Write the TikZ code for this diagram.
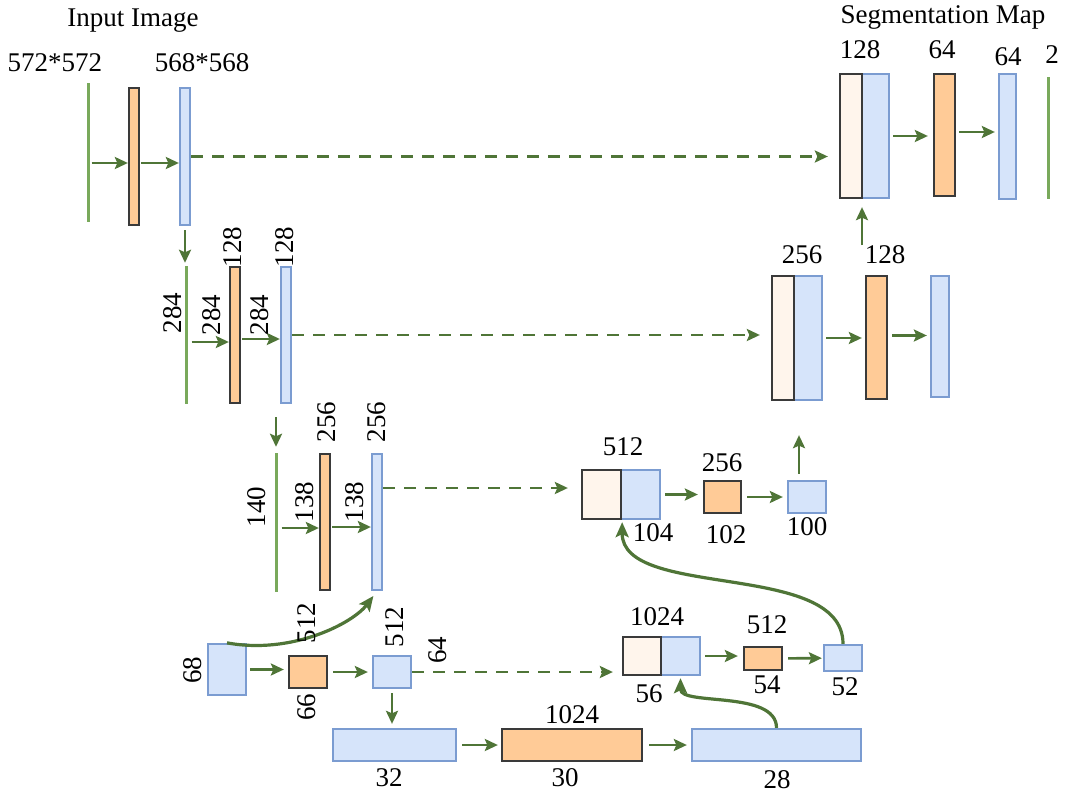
\documentclass[tikz,border=0pt]{standalone}
\usepackage{fontspec}
\setmainfont{Liberation Serif}
\usetikzlibrary{arrows.meta}
\definecolor{arrowgreen}{HTML}{4F7537}
\definecolor{planegreen}{HTML}{79A95B}
\definecolor{convfill}{HTML}{FFCB97}
\definecolor{featfill}{HTML}{D6E4FA}
\definecolor{featline}{HTML}{7B9CD1}
\definecolor{copyfill}{HTML}{FFF5EC}
\definecolor{boxline}{HTML}{3A3A3A}

\begin{document}
\begin{tikzpicture}[
    x=1pt, y=-1pt,
    font=\fontsize{27}{32}\selectfont,
    conv/.style={rectangle, draw=boxline, fill=convfill, line width=2.3pt, inner sep=0pt},
    feat/.style={rectangle, draw=featline, fill=featfill, line width=2.3pt, inner sep=0pt},
    copied/.style={rectangle, draw=boxline, fill=copyfill, line width=2.3pt, inner sep=0pt},
    plane/.style={rectangle, fill=planegreen, minimum width=3pt, inner sep=0pt},
    txt/.style={inner sep=0pt},
    vtxt/.style={inner sep=0pt, rotate=90},
    arrow/.style={-{Stealth[length=13pt, width=12pt, inset=2.5pt]}, color=arrowgreen, line width=2.6pt},
    skip/.style={arrow, dash pattern=on 12pt off 9pt},
    curvedarrow/.style={-{Stealth[length=15pt, width=13pt, inset=3pt]}, color=arrowgreen, line width=3.2pt}
]
\fill[white] (0,0) rectangle (1065,795);
\useasboundingbox (0,0) rectangle (1065,795);

% contracting path
\node[plane, minimum height=139pt] (i1) at (88,152.5) {};
\node[conv, minimum width=10pt, minimum height=137pt] (a1) at (134,156.5) {};
\node[feat, minimum width=10pt, minimum height=137pt] (b1) at (185,156.5) {};

\node[plane, minimum height=138pt] (i2) at (186,335) {};
\node[conv, minimum width=10pt, minimum height=136pt] (a2) at (235,335) {};
\node[feat, minimum width=10pt, minimum height=136pt] (b2) at (286,335) {};

\node[plane, minimum height=139pt] (i3) at (276,522.5) {};
\node[conv, minimum width=10pt, minimum height=136pt] (a3) at (325,522) {};
\node[feat, minimum width=10pt, minimum height=136pt] (b3) at (377,522) {};

\node[feat, minimum width=38pt, minimum height=51pt] (i4) at (227,669.5) {};
\node[conv, minimum width=38pt, minimum height=32pt] (a4) at (308,672) {};
\node[feat, minimum width=38pt, minimum height=32pt] (b4) at (392,672) {};

\node[feat, minimum width=123pt, minimum height=32pt] (i5) at (394.5,745) {};
\node[conv, minimum width=140pt, minimum height=32pt] (a5) at (572,745) {};
\node[feat, minimum width=169pt, minimum height=32pt] (b5) at (776.5,745) {};

% expanding path
\node[feat, minimum width=39pt, minimum height=38pt] (u4) at (680.5,656) {};
\node[copied, minimum width=38pt, minimum height=38pt] (c4) at (642,656) {};
\node[conv, minimum width=38pt, minimum height=23pt] (d4) at (763,658.5) {};
\node[feat, minimum width=38pt, minimum height=26pt] (e4) at (843,658) {};

\node[feat, minimum width=39pt, minimum height=49pt] (u3) at (640.5,494.5) {};
\node[copied, minimum width=39pt, minimum height=49pt] (c3) at (601.5,494.5) {};
\node[conv, minimum width=37pt, minimum height=32pt] (d3) at (722.5,497) {};
\node[feat, minimum width=38pt, minimum height=32pt] (e3) at (807,497) {};

\node[feat, minimum width=28pt, minimum height=124pt] (u2) at (808,338) {};
\node[copied, minimum width=22pt, minimum height=124pt] (c2) at (783,338) {};
\node[conv, minimum width=21pt, minimum height=123pt] (d2) at (876.5,337.5) {};
\node[feat, minimum width=18pt, minimum height=121pt] (e2) at (940,336.5) {};

\node[feat, minimum width=27pt, minimum height=124pt] (u1) at (875.5,136) {};
\node[copied, minimum width=22pt, minimum height=124pt] (c1) at (851,136) {};
\node[conv, minimum width=21pt, minimum height=122pt] (d1) at (944.5,135) {};
\node[feat, minimum width=17pt, minimum height=125pt] (e1) at (1007.5,136.5) {};
\node[plane, minimum height=122pt] (o1) at (1048,138) {};

\coordinate (s3) at ([yshift=34pt]b3.east);
\coordinate (n3) at ([xshift=-8pt]e3.north);
\coordinate (n2) at (862,245);

\draw[arrow, shorten <=2pt] ([yshift=-10.5pt]i1.east) -- ([yshift=-6.5pt]a1.west);
\draw[arrow, shorten <=1pt] ([yshift=-6.5pt]a1.east) -- ([yshift=-6.5pt]b1.west);
\draw[skip, shorten >=11pt] (b1.east) -- (b1.east -| c1.west);
\draw[arrow, shorten <=4pt, shorten >=3pt] (b1.south) -- (b1.south |- i2.north);

\draw[arrow, shorten <=4pt] ([yshift=-7pt]i2.east) -- ([yshift=-7pt]a2.west);
\draw[arrow, shorten <=1pt] ([yshift=-4pt]a2.east) -- ([yshift=-4pt]b2.west);
\draw[skip, shorten >=11pt] (b2.east) -- (b2.east -| c2.west);
\draw[arrow, shorten <=13pt, shorten >=6pt] (i3.north |- b2.south) -- (i3.north);

\draw[arrow, shorten <=4pt] ([yshift=-5.5pt]i3.east) -- ([yshift=-6pt]a3.west);
\draw[arrow, shorten <=1pt] ([yshift=-5pt]a3.east) -- ([yshift=-5pt]b3.west);
\draw[skip, shorten >=13pt] (s3) -- (s3 -| c3.west);

\draw[arrow, shorten <=3pt, shorten >=4pt] (i4.east) -- (i4.east -| a4.west);
\draw[arrow, shorten <=5pt, shorten >=4pt] (a4) -- (b4);
\draw[skip, shorten >=9pt] (b4.east) -- (b4.east -| c4.west);
\draw[arrow, shorten <=4pt, shorten >=4pt] (b4.south) -- (b4.south |- i5.north);

\draw[arrow, shorten <=5pt, shorten >=3pt] (i5) -- (a5);
\draw[arrow, shorten <=6pt, shorten >=4pt] (a5) -- (b5);

\draw[arrow, shorten <=4pt, shorten >=5pt] (u4.east) -- (u4.east -| d4.west);
\draw[arrow, shorten <=5pt, shorten >=1pt] (d4) -- (e4);

\draw[arrow, shorten <=4pt, shorten >=5pt] (u3.east) -- (u3.east -| d3.west);
\draw[arrow, shorten <=5pt, shorten >=4pt] (d3) -- (e3);
\draw[arrow, shorten <=6pt, shorten >=34pt] (n3) -- (n3 |- u2.south);

\draw[arrow, shorten <=3pt, shorten >=3pt] (u2.east) -- (u2.east -| d2.west);
\draw[arrow, shorten <=4pt, shorten >=3pt] ([yshift=2pt]d2.east) -- ([yshift=1pt]e2.west);
\draw[arrow, shorten >=8pt] (n2) -- (n2 |- c1.south);

\draw[arrow, shorten <=3pt, shorten >=5pt] (u1.east) -- (u1.east -| d1.west);
\draw[arrow, shorten <=3pt, shorten >=3pt] ([yshift=3pt]d1.east) -- ([yshift=4.5pt]e1.west);

\draw[curvedarrow, shorten >=6pt] (i4.north) .. controls +(65,12) and +(-24,32) .. (b3.south);
\draw[curvedarrow, shorten >=2pt] (e4.north) .. controls +(0,-84) and +(0,80) .. (c3.south east);
\draw[curvedarrow, shorten >=2pt] (b5.north) .. controls +(0,-38) and +(0,30) .. (u4.south);

% sizes and channels
\node[txt] (tin) at (133,21) {Input Image};
\node[txt] (tin1) at (55,63) {572*572};
\node[txt] (tin2) at (202,63) {568*568};
\node[txt] (tout) at (943,17) {Segmentation Map};
\node[txt] (tc1) at (860,50) {128};
\node[txt] (td1) at (942,50) {64};
\node[txt] (te1) at (1008,57) {64};
\node[txt] (to1) at (1052,55) {2};

\node[vtxt] (ti2) at (173,313) {284};
\node[vtxt] (tw2) at (212,315) {284};
\node[vtxt] (tx2) at (260,315) {284};
\node[vtxt] (ta2) at (233,247) {128};
\node[vtxt] (tb2) at (285,247) {128};
\node[txt] (tc2) at (802,255) {256};
\node[txt] (td2) at (885,255) {128};

\node[vtxt] (ti3) at (257,507) {140};
\node[vtxt] (tw3) at (305,502) {138};
\node[vtxt] (tx3) at (355,502) {138};
\node[vtxt] (ta3) at (327,422) {256};
\node[vtxt] (tb3) at (377,422) {256};
\node[txt] (tc3) at (623,447) {512};
\node[txt] (tu3) at (653,533) {104};
\node[txt] (td3) at (722,463) {256};
\node[txt] (tw4) at (726,535) {102};
\node[txt] (te3) at (807,527) {100};

\node[vtxt] (ti4) at (193,670) {68};
\node[vtxt] (ta4) at (307,623) {512};
\node[vtxt] (tw5) at (307,707) {66};
\node[vtxt] (tb4) at (395,627) {512};
\node[vtxt] (tx4) at (438,650) {64};
\node[txt] (tc4) at (657,617) {1024};
\node[txt] (tu4) at (649,694) {56};
\node[txt] (td4) at (767,625) {512};
\node[txt] (ty4) at (767,685) {54};
\node[txt] (te4) at (845,687) {52};

\node[txt] (ti5) at (389,778) {32};
\node[txt] (ta5) at (572,715) {1024};
\node[txt] (ty5) at (565,778) {30};
\node[txt] (tb5) at (777,780) {28};
\end{tikzpicture}
\end{document}
